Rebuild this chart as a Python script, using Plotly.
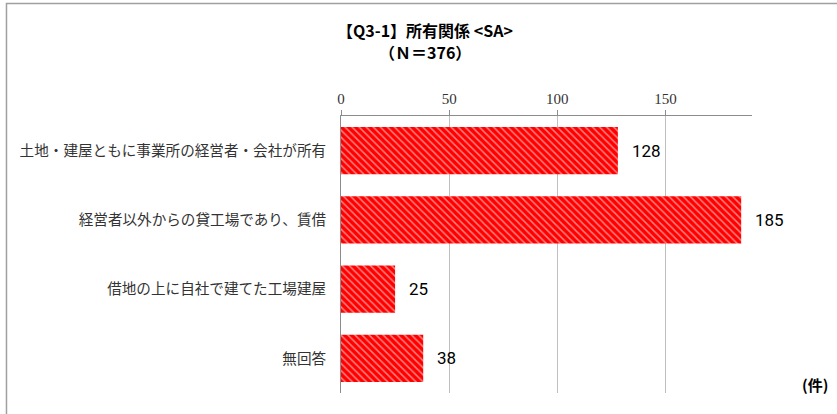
import plotly.graph_objects as go

categories = ["土地・建屋ともに事業所の経営者・会社が所有",
              "経営者以外からの貸工場であり、賃借",
              "借地の上に自社で建てた工場建屋",
              "無回答"]
values = [128, 185, 25, 38]
tick_vals = [0, 50, 100, 150]
title_lines = ["【Q3-1】所有関係 &lt;SA&gt;", "（Ｎ＝376）"]
unit_label = "(件)"

fig = go.Figure()
fig.add_trace(go.Bar(
    y=categories, x=values, orientation="h",
    marker=dict(color="#ff0000", line=dict(width=0),
                pattern=dict(shape="\\", fgcolor="#ffffff", bgcolor="#ff0000",
                             size=5, solidity=0.3)),
    width=0.68, hoverinfo="skip",
))
for c, v in zip(categories, values):
    fig.add_annotation(x=v, y=c, text=str(v), showarrow=False, xanchor="left",
                       xshift=12,
                       font=dict(family="Roboto, Noto Sans CJK JP", size=17, color="#000"))

for txt, yy in zip(title_lines, [1.31, 1.231]):
    fig.add_annotation(xref="paper", yref="paper", x=0.204, y=yy, text=f"<b>{txt}</b>",
                       showarrow=False, xanchor="center", yanchor="middle",
                       font=dict(family="Noto Sans CJK JP", size=16, color="#000"))

fig.add_annotation(xref="paper", yref="paper", x=1.19, y=0.03, text=f"<b>{unit_label}</b>",
                   showarrow=False, xanchor="right", yanchor="middle",
                   font=dict(family="Noto Sans CJK JP", size=15, color="#000"))

fig.update_layout(
    width=837, height=414,
    margin=dict(l=341, r=85, t=116, b=21, autoexpand=False),
    paper_bgcolor="white", plot_bgcolor="white",
    showlegend=False,
    xaxis=dict(side="top", range=[0, 190], tickvals=tick_vals, showgrid=True,
               gridcolor="#bfbfbf", gridwidth=1, showline=True, linecolor="#8c8c8c",
               ticks="outside", ticklen=5, tickcolor="#8c8c8c", zeroline=False,
               automargin=False,
               tickfont=dict(family="Liberation Serif", size=15, color="#333")),
    yaxis=dict(autorange="reversed", showline=True, linecolor="#8c8c8c",
               ticks="", ticklabelstandoff=11, automargin=False,
               tickfont=dict(family="Noto Sans CJK JP", size=14.6, color="#333")),
    shapes=[dict(type="path", xref="paper", yref="paper", layer="above",
                 path="M -0.8139,-0.2 L -0.8139,1.4061 L 1.3,1.4061",
                 line=dict(color="#a0a0a0", width=1.5))],
)
fig.write_html("out.html", config={"displayModeBar": False},
               post_script="document.body.style.margin='0';document.body.style.padding='0';")
